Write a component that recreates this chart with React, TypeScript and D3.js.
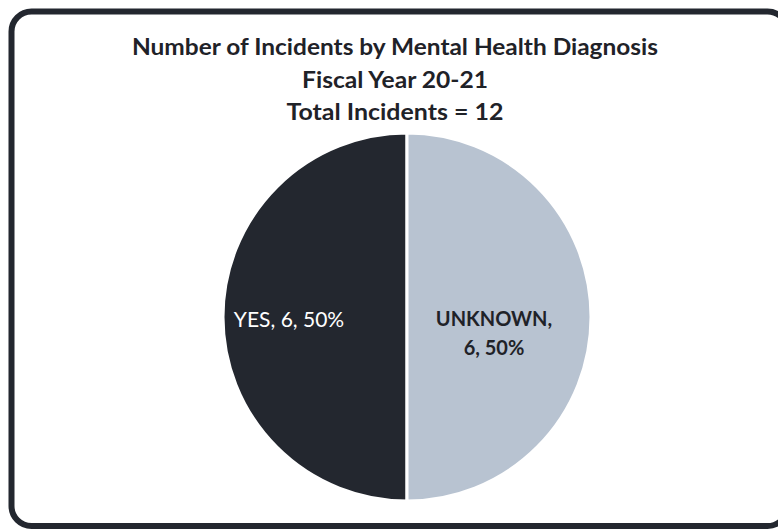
import React from "react";
import * as d3 from "d3";

const categories = ["YES", "UNKNOWN"];
const values = [6, 6];
const titleLines = [
  "Number of Incidents by Mental Health Diagnosis",
  "Fiscal Year 20-21",
  "Total Incidents = 12",
];
const colors = ["#23272f", "#b8c3d1"];

export default function App() {
  const W = 778, H = 529;
  const cx = 407, cy = 317, r = 184;
  const total = d3.sum(values);
  const pie = d3.pie<number>().sort(null).startAngle(Math.PI * 2).endAngle(0)(values);
  const arc = d3.arc<d3.PieArcDatum<number>>().innerRadius(0).outerRadius(r);
  const font = "Lato, 'Open Sans', sans-serif";
  const titleLens = [526, 186, 217];
  return (
    <svg width={W} height={H} style={{ position: "absolute", left: 0, top: 0 }}>
      <rect x={0} y={0} width={W} height={H} fill="#fff" />
      <rect x={11.5} y={11.5} width={776} height={514.5} rx={20} ry={20} fill="none" stroke="#23272f" strokeWidth={6} />
      {titleLines.map((t, i) => (
        <text key={i} x={395} y={55 + i * 32.5} textAnchor="middle" fontFamily={font} fontWeight={700} fontSize={23}
          textLength={titleLens[i]} lengthAdjust="spacingAndGlyphs" fill="#1f2228">
          {t}
        </text>
      ))}
      <g transform={`translate(${cx},${cy})`}>
        {pie.map((d, i) => (
          <path key={i} d={arc(d) || ""} fill={colors[i]} stroke="#fff" strokeWidth={3} />
        ))}
        {pie.map((d, i) => {
          const pct = Math.round((d.data / total) * 100);
          if (i === 0) {
            return (
              <text key={"l" + i} x={-118} y={10} textAnchor="middle" fontFamily={font} fontSize={21} fill="#fff">
                {`${categories[i]}, ${d.data}, ${pct}%`}
              </text>
            );
          }
          return (
            <text key={"l" + i} x={87} y={9} textAnchor="middle" fontFamily={font} fontWeight={700} fontSize={20} fill="#1f2228">
              <tspan x={87} dy={0}>{`${categories[i]},`}</tspan>
              <tspan x={87} dy={29}>{`${d.data}, ${pct}%`}</tspan>
            </text>
          );
        })}
      </g>
    </svg>
  );
}
